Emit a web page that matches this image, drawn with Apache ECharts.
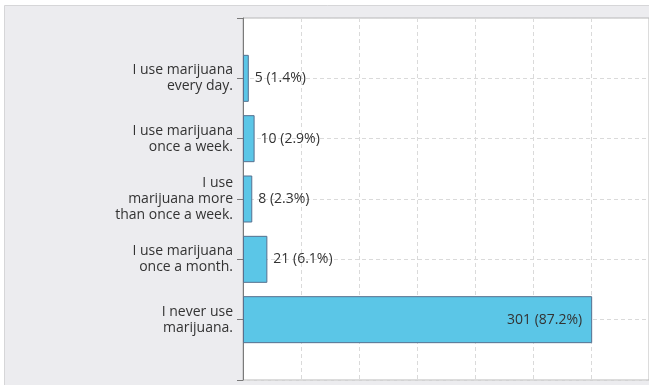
<!DOCTYPE html>
<html><head><meta charset="utf-8">
<script src="https://cdn.jsdelivr.net/npm/echarts@6/dist/echarts.min.js"></script>
<style>html,body{margin:0;padding:0;background:#fff}#c{width:649px;height:385px}</style>
</head><body><div id="c"></div>
<script>
const categories = ["I use marijuana\nevery day.", "I use marijuana\nonce a week.", "I use\nmarijuana more\nthan once a week.", "I use marijuana\nonce a month.", "I never use\nmarijuana."];
const counts = [5, 10, 8, 21, 301];
const percents = ["1.4%", "2.9%", "2.3%", "6.1%", "87.2%"];

const chart = echarts.init(document.getElementById('c'));
const yData = [''].concat(categories, ['']);
const barData = [null].concat(counts.map((v, i) => ({
  value: v,
  label: i === counts.length - 1 ? {position: 'insideRight', distance: 10} : {position: 'right', distance: 6}
})), [null]);
chart.setOption({
  animation: false,
  textStyle: {fontFamily: 'Open Sans'},
  graphic: [{type: 'rect', left: 4, top: 5, z: -10, shape: {width: 660, height: 400}, style: {fill: '#ececef', stroke: '#d6d6d8', lineWidth: 1}}],
  grid: {left: 243, top: 18, width: 408, height: 362, show: true, backgroundColor: '#ffffff', borderColor: '#b8b8b8', borderWidth: 1},
  xAxis: {type: 'value', min: 0, max: 350, interval: 50,
    axisLabel: {show: false}, axisTick: {show: false}, axisLine: {show: false},
    splitLine: {show: true, lineStyle: {color: '#dadada', type: [4, 3], width: 1}}},
  yAxis: {type: 'category', data: yData, inverse: true, boundaryGap: false,
    axisLine: {show: true, lineStyle: {color: '#7a7a7a', width: 1}},
    axisTick: {show: true, length: 6, lineStyle: {color: '#7a7a7a'}},
    axisLabel: {color: '#333', fontSize: 14, lineHeight: 16, margin: 10, align: 'right'},
    splitLine: {show: true, lineStyle: {color: '#dadada', type: [4, 3], width: 1}}},
  series: [{type: 'bar', data: barData, barWidth: 47,
    itemStyle: {color: '#5bc6e7', borderColor: '#56708f', borderWidth: 1},
    label: {show: true, color: '#333', fontSize: 14,
      formatter: p => p.value + ' (' + percents[p.dataIndex - 1] + ')'}}]
});
</script></body></html>
